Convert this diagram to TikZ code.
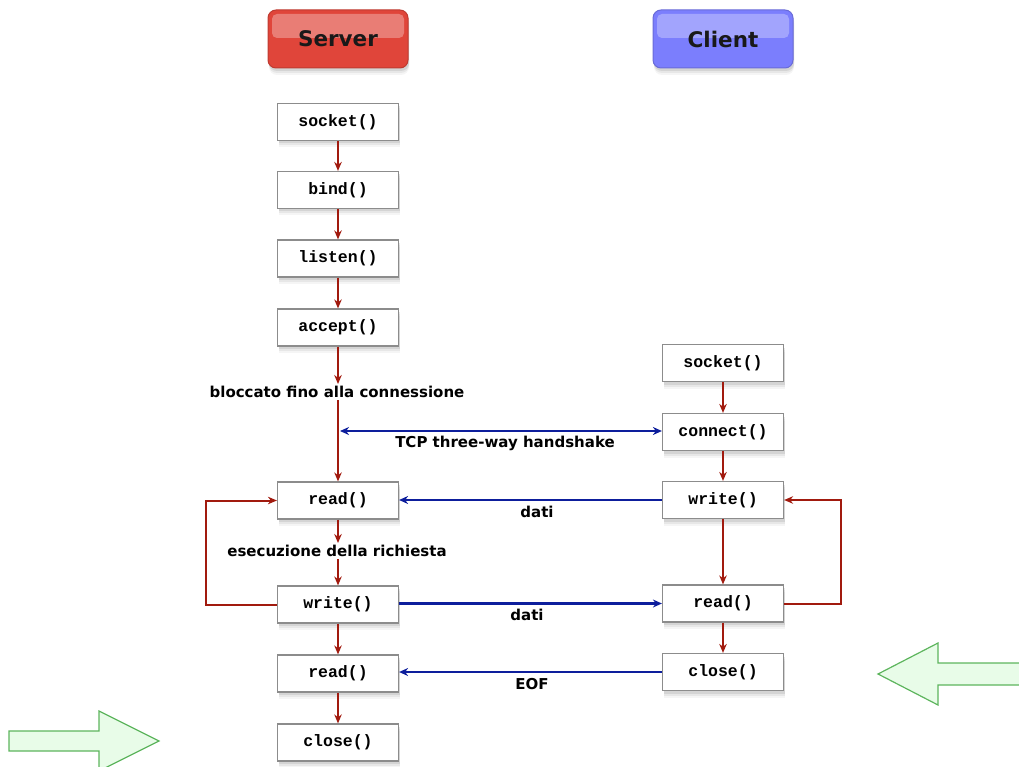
\documentclass[tikz,border=0pt]{standalone}
\usepackage{fontspec}
\setmainfont{DejaVu Sans}
\setmonofont{Liberation Mono}
\usetikzlibrary{shadows,arrows.meta}
\definecolor{srvred}{HTML}{E0453A}
\definecolor{cliblue}{HTML}{7B7EFD}
\definecolor{flowred}{HTML}{A11A0E}
\definecolor{msgblue}{HTML}{0D1E9C}
\definecolor{gfill}{HTML}{E8FCE8}
\definecolor{gline}{HTML}{5DB55D}
\begin{document}
\begin{tikzpicture}[x=1pt,y=-1pt,
  softshadow/.style={
    drop shadow={shadow xshift=1pt, shadow yshift=-7pt, opacity=0.08},
    drop shadow={shadow xshift=1pt, shadow yshift=-5pt, opacity=0.12},
    drop shadow={shadow xshift=1pt, shadow yshift=-3pt, opacity=0.18}},
  title/.style={minimum width=140pt, minimum height=58pt, rounded corners=8pt, inner sep=0pt,
    font=\bfseries\fontsize{21.5}{24}\selectfont, text=black!90, softshadow,
    path picture={\fill[white,opacity=0.3,rounded corners=5pt]
      ([xshift=4pt,yshift=-4pt]path picture bounding box.north west) rectangle
      ([xshift=-4pt,yshift=1pt]path picture bounding box.east);}},
  fn/.style={draw=black!45, line width=1.2pt, fill=white, minimum width=121pt, minimum height=37pt,
    inner sep=0pt, font=\ttfamily\bfseries\fontsize{16.5}{18}\selectfont, softshadow},
  lbl/.style={font=\bfseries\fontsize{15}{17}\selectfont, inner sep=2pt},
  flow/.style={draw=flowred, line width=2pt, -{Stealth[length=9pt,width=7.5pt]}},
  msg/.style={draw=msgblue, line width=2.2pt, -{Stealth[length=9pt,width=8pt]}},
  bigarrow/.style={draw=gline, line width=1.2pt, fill=gfill}]
\useasboundingbox (0,0) rectangle (1019,767);
\clip (0,0) rectangle (1019,767);

% titles
\node[title, fill=srvred, draw=srvred!85!black, line width=1pt] (srv) at (338,39) {Server};
\node[title, fill=cliblue, draw=cliblue!85!black, line width=1pt] (cli) at (723,39) {Client};

% server column
\node[fn] (s1) at (338,122) {socket()};
\node[fn] (s2) at (338,190) {bind()};
\node[fn] (s3) at (338,258.5) {listen()};
\node[fn] (s4) at (338,327.5) {accept()};
\node[fn] (s5) at (338,500.5) {read()};
\node[fn] (s6) at (338,604.5) {write()};
\node[fn] (s7) at (338,673.5) {read()};
\node[fn] (s8) at (338,742.5) {close()};

% client column
\node[fn] (c1) at (723,363) {socket()};
\node[fn] (c2) at (723,432) {connect()};
\node[fn] (c3) at (723,500) {write()};
\node[fn] (c4) at (723,603.5) {read()};
\node[fn] (c5) at (723,672) {close()};

% labels
\node[lbl] (bl) at (337,392) {bloccato fino alla connessione};
\node[lbl] (hsl) at (505,443) {TCP three-way handshake};
\node[lbl] (d1) at (537,512) {dati};
\node[lbl] (ex) at (337,551) {esecuzione della richiesta};
\node[lbl] (d2) at (527,615) {dati};
\node[lbl] (eof) at (532,684) {EOF};

% server flow
\draw[flow] (s1) -- (s2);
\draw[flow] (s2) -- (s3);
\draw[flow] (s3) -- (s4);
\draw[flow] (s4.south) -- (s4.south |- bl.north);
\draw[flow] (s5.north |- bl.south) -- (s5.north);
\draw[flow] (s5.south) -- (s5.south |- ex.north);
\draw[flow] (s6.north |- ex.south) -- (s6.north);
\draw[flow] (s6) -- (s7);
\draw[flow] (s7) -- (s8);
\draw[flow] (s6.west) -- ++(-71,0) |- (s5.west);

% client flow
\draw[flow] (c1) -- (c2);
\draw[flow] (c2) -- (c3);
\draw[flow] (c3) -- (c4);
\draw[flow] (c4) -- (c5);
\draw[flow] (c4.east) -- ++(57,0) |- (c3.east);

% messages
\coordinate (hs) at (340,431);
\draw[msg, {Stealth[length=9pt,width=8pt]}-{Stealth[length=9pt,width=8pt]}] (hs) -- (c2.west |- hs);
\draw[msg] (c3.west) -- (s5.east |- c3.west);
\draw[msg] (s6.east |- c4.west) -- (c4.west);
\draw[msg] (c5.west) -- (s7.east |- c5.west);

% green arrows
\draw[bigarrow] (9,731) -- (99,731) -- (99,711) -- (159,741) -- (99,771) -- (99,751) -- (9,751) -- cycle;
\draw[bigarrow] (1030,663) -- (938,663) -- (938,643) -- (878,674) -- (938,705) -- (938,685) -- (1030,685) -- cycle;
\end{tikzpicture}
\end{document}
